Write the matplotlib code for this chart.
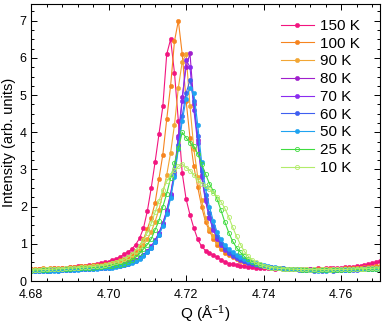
import numpy as np
import matplotlib
matplotlib.use("Agg")
import matplotlib.pyplot as plt
from matplotlib.ticker import MultipleLocator

plt.rcParams['font.family'] = ['Liberation Sans', 'DejaVu Sans']
plt.rcParams['mathtext.fontset'] = 'custom'
plt.rcParams['mathtext.rm'] = 'Liberation Sans'
plt.rcParams['mathtext.it'] = 'Liberation Sans:italic'

# Q grid 4.680 ... 4.770 (step 0.001)
q = [round(4.680 + 0.001 * i, 3) for i in range(91)]

i_150 = [0.31, 0.30, 0.32, 0.31, 0.33, 0.32, 0.34, 0.33, 0.35, 0.35,
         0.37, 0.37, 0.39, 0.40, 0.41, 0.43, 0.44, 0.46, 0.48, 0.50,
         0.52, 0.56, 0.60, 0.65, 0.72, 0.78, 0.86, 0.98, 1.15, 1.42,
         1.88, 2.50, 3.20, 3.95, 4.70, 6.10, 6.50, 5.60, 4.30, 2.90,
         2.20, 1.78, 1.42, 1.12, 0.93, 0.82, 0.75, 0.69, 0.64, 0.57,
         0.51, 0.47, 0.45, 0.43, 0.41, 0.39, 0.38, 0.37, 0.36, 0.35,
         0.35, 0.34, 0.34, 0.33, 0.34, 0.33, 0.33, 0.32, 0.33, 0.32,
         0.33, 0.32, 0.33, 0.33, 0.34, 0.33, 0.34, 0.35, 0.35, 0.36,
         0.36, 0.37, 0.38, 0.38, 0.40, 0.41, 0.43, 0.45, 0.48, 0.51,
         0.55]

i_100 = [0.33, 0.32, 0.33, 0.34, 0.33, 0.34, 0.35, 0.35, 0.36, 0.36,
         0.37, 0.38, 0.38, 0.39, 0.40, 0.41, 0.42, 0.43, 0.44, 0.45,
         0.46, 0.49, 0.52, 0.56, 0.59, 0.65, 0.72, 0.82, 0.95, 1.12,
         1.40, 1.70, 2.10, 2.75, 3.40, 4.35, 5.25, 6.45, 7.00, 6.10,
         4.85, 3.85, 3.08, 2.52, 2.00, 1.59, 1.35, 1.14, 0.98, 0.85,
         0.76, 0.70, 0.65, 0.60, 0.55, 0.52, 0.49, 0.45, 0.43, 0.41,
         0.39, 0.37, 0.36, 0.35, 0.34, 0.33, 0.33, 0.32, 0.32, 0.31,
         0.32, 0.31, 0.31, 0.32, 0.31, 0.32, 0.32, 0.33, 0.32, 0.33,
         0.33, 0.34, 0.34, 0.35, 0.35, 0.36, 0.37, 0.37, 0.38, 0.39,
         0.40]

i_90 = [0.30, 0.31, 0.30, 0.31, 0.32, 0.31, 0.32, 0.33, 0.32, 0.33,
        0.34, 0.34, 0.35, 0.36, 0.36, 0.37, 0.38, 0.39, 0.40, 0.41,
        0.42, 0.43, 0.45, 0.47, 0.50, 0.55, 0.62, 0.72, 0.84, 0.98,
        1.12, 1.32, 1.60, 1.92, 2.35, 2.85, 3.45, 4.20, 5.20, 5.90,
        6.10, 4.70, 3.55, 2.80, 2.18, 1.70, 1.40, 1.22, 1.06, 0.93,
        0.84, 0.76, 0.69, 0.63, 0.58, 0.54, 0.50, 0.47, 0.44, 0.42,
        0.40, 0.38, 0.37, 0.36, 0.35, 0.34, 0.33, 0.33, 0.32, 0.32,
        0.31, 0.32, 0.31, 0.31, 0.30, 0.31, 0.31, 0.32, 0.31, 0.32,
        0.32, 0.33, 0.33, 0.33, 0.34, 0.34, 0.35, 0.35, 0.36, 0.36,
        0.37]

i_80 = [0.28, 0.29, 0.28, 0.29, 0.29, 0.30, 0.29, 0.30, 0.31, 0.30,
        0.31, 0.31, 0.32, 0.32, 0.33, 0.33, 0.34, 0.34, 0.35, 0.36,
        0.37, 0.38, 0.40, 0.42, 0.45, 0.48, 0.52, 0.57, 0.63, 0.71,
        0.81, 0.93, 1.10, 1.30, 1.56, 1.90, 2.35, 2.95, 3.90, 4.95,
        5.75, 6.12, 4.75, 3.80, 2.85, 2.20, 1.72, 1.40, 1.16, 0.99,
        0.86, 0.76, 0.69, 0.63, 0.58, 0.54, 0.50, 0.47, 0.44, 0.42,
        0.40, 0.38, 0.37, 0.36, 0.35, 0.34, 0.33, 0.32, 0.32, 0.31,
        0.31, 0.30, 0.31, 0.30, 0.30, 0.29, 0.30, 0.30, 0.31, 0.30,
        0.31, 0.31, 0.32, 0.32, 0.33, 0.33, 0.34, 0.34, 0.35, 0.35,
        0.36]

i_70 = [0.27, 0.28, 0.28, 0.29, 0.28, 0.29, 0.30, 0.29, 0.30, 0.31,
        0.30, 0.31, 0.32, 0.32, 0.33, 0.34, 0.34, 0.35, 0.35, 0.36,
        0.37, 0.38, 0.40, 0.42, 0.44, 0.47, 0.51, 0.56, 0.62, 0.70,
        0.80, 0.92, 1.08, 1.28, 1.54, 1.88, 2.32, 2.92, 3.85, 4.85,
        5.95, 5.75, 4.60, 3.70, 2.80, 2.15, 1.70, 1.38, 1.14, 0.97,
        0.84, 0.75, 0.68, 0.62, 0.57, 0.53, 0.49, 0.46, 0.43, 0.41,
        0.39, 0.37, 0.36, 0.35, 0.34, 0.33, 0.32, 0.32, 0.31, 0.31,
        0.30, 0.30, 0.29, 0.30, 0.29, 0.30, 0.30, 0.29, 0.30, 0.30,
        0.31, 0.30, 0.31, 0.31, 0.32, 0.32, 0.33, 0.33, 0.34, 0.34,
        0.35]

i_60 = [0.26, 0.27, 0.27, 0.28, 0.27, 0.28, 0.29, 0.28, 0.29, 0.30,
        0.30, 0.30, 0.31, 0.31, 0.32, 0.33, 0.33, 0.34, 0.34, 0.35,
        0.36, 0.37, 0.39, 0.41, 0.43, 0.46, 0.50, 0.55, 0.61, 0.69,
        0.78, 0.90, 1.06, 1.25, 1.50, 1.83, 2.27, 2.85, 3.65, 4.45,
        5.05, 5.40, 4.85, 3.90, 2.95, 2.30, 1.82, 1.48, 1.22, 1.03,
        0.89, 0.79, 0.71, 0.65, 0.60, 0.55, 0.51, 0.48, 0.45, 0.42,
        0.40, 0.38, 0.36, 0.35, 0.34, 0.33, 0.32, 0.31, 0.31, 0.30,
        0.30, 0.29, 0.29, 0.28, 0.29, 0.28, 0.29, 0.29, 0.28, 0.29,
        0.29, 0.30, 0.29, 0.30, 0.30, 0.31, 0.31, 0.32, 0.32, 0.33,
        0.33]

i_50 = [0.26, 0.26, 0.27, 0.27, 0.28, 0.27, 0.28, 0.28, 0.29, 0.29,
        0.30, 0.30, 0.30, 0.31, 0.31, 0.32, 0.32, 0.33, 0.34, 0.34,
        0.35, 0.36, 0.38, 0.40, 0.42, 0.45, 0.49, 0.54, 0.60, 0.68,
        0.77, 0.88, 1.04, 1.23, 1.48, 1.80, 2.22, 2.80, 3.55, 4.30,
        4.90, 5.20, 5.05, 4.20, 3.20, 2.50, 2.00, 1.62, 1.32, 1.12,
        0.97, 0.86, 0.77, 0.70, 0.64, 0.59, 0.55, 0.51, 0.48, 0.45,
        0.42, 0.40, 0.38, 0.37, 0.35, 0.34, 0.33, 0.32, 0.31, 0.31,
        0.30, 0.30, 0.29, 0.29, 0.28, 0.29, 0.28, 0.29, 0.29, 0.30,
        0.29, 0.30, 0.30, 0.31, 0.31, 0.31, 0.32, 0.32, 0.33, 0.33,
        0.34]

i_25 = [0.28, 0.29, 0.29, 0.30, 0.30, 0.31, 0.31, 0.32, 0.32, 0.33,
        0.33, 0.34, 0.34, 0.35, 0.35, 0.36, 0.36, 0.37, 0.38, 0.39,
        0.40, 0.41, 0.42, 0.44, 0.46, 0.50, 0.56, 0.64, 0.74, 0.86,
        0.98, 1.13, 1.38, 1.62, 2.00, 2.35, 2.77, 3.17, 3.57, 4.00,
        3.85, 3.72, 3.62, 3.42, 3.15, 2.88, 2.62, 2.42, 2.20, 1.90,
        1.58, 1.30, 1.07, 0.90, 0.77, 0.66, 0.58, 0.52, 0.47, 0.43,
        0.40, 0.38, 0.36, 0.35, 0.34, 0.33, 0.32, 0.32, 0.31, 0.31,
        0.30, 0.30, 0.29, 0.30, 0.29, 0.29, 0.30, 0.29, 0.30, 0.30,
        0.30, 0.31, 0.30, 0.31, 0.31, 0.32, 0.31, 0.32, 0.32, 0.33,
        0.33]

i_10 = [0.29, 0.30, 0.30, 0.31, 0.31, 0.32, 0.32, 0.33, 0.33, 0.34,
        0.35, 0.35, 0.36, 0.37, 0.37, 0.38, 0.39, 0.40, 0.41, 0.43,
        0.45, 0.48, 0.51, 0.54, 0.58, 0.64, 0.72, 0.82, 0.95, 1.10,
        1.30, 1.55, 1.85, 2.15, 2.45, 2.68, 2.85, 2.98, 3.08, 3.15,
        3.05, 2.97, 2.85, 2.72, 2.62, 2.55, 2.47, 2.38, 2.27, 2.13,
        1.95, 1.72, 1.45, 1.20, 0.98, 0.80, 0.67, 0.57, 0.50, 0.45,
        0.41, 0.38, 0.36, 0.35, 0.34, 0.33, 0.33, 0.32, 0.32, 0.31,
        0.31, 0.31, 0.30, 0.31, 0.30, 0.31, 0.31, 0.30, 0.31, 0.31,
        0.32, 0.31, 0.32, 0.32, 0.33, 0.33, 0.33, 0.34, 0.34, 0.35,
        0.35]

labels = ['150 K', '100 K', '90 K', '80 K', '70 K', '60 K', '50 K', '25 K', '10 K']
series = [i_150, i_100, i_90, i_80, i_70, i_60, i_50, i_25, i_10]
colors = ['#f2157f', '#f6841f', '#f2a634', '#a01fcc', '#8a2cf0',
          '#3f5ff0', '#1fa3f0', '#3fdc3f', '#b2ec6a']
hollow = [False, False, False, False, False, False, False, True, True]

fig = plt.figure(figsize=(3.82, 3.26), dpi=100)
ax = fig.add_axes([31 / 382, 1 - 281 / 326, 349 / 382, 277 / 326])

for y, lab, c, h in zip(series, labels, colors, hollow):
    if h:
        ax.plot(q, y, '-o', color=c, lw=0.8, ms=3.0, mfc='none', mew=0.6, label=lab)
    else:
        ax.plot(q, y, '-o', color=c, lw=0.8, ms=3.2, mec=c, mew=0.3, label=lab)

ax.set_xlim(4.68, 4.77)
ax.set_ylim(0, 7.45)
ax.xaxis.set_major_locator(MultipleLocator(0.02))
ax.xaxis.set_minor_locator(MultipleLocator(0.004))
ax.yaxis.set_major_locator(MultipleLocator(1))
ax.yaxis.set_minor_locator(MultipleLocator(0.25))
ax.set_xticks([4.68, 4.70, 4.72, 4.74, 4.76])
ax.set_xticklabels(['4.68', '4.70', '4.72', '4.74', '4.76'])
ax.tick_params(which='both', direction='in', top=True, right=True, labelsize=9, width=0.7)
ax.tick_params(which='major', length=4)
ax.tick_params(which='minor', length=2)
ax.tick_params(axis='x', which='major', pad=5.5)
ax.tick_params(axis='y', which='major', pad=3)
for s in ax.spines.values():
    s.set_linewidth(0.8)

ax.set_xlabel('Q (Å$^{-1}$)', fontsize=11, labelpad=2)
ax.set_ylabel('Intensity (arb. units)', fontsize=10.5, labelpad=3)

leg = ax.legend(loc='upper left', bbox_to_anchor=(0.715, 0.946), frameon=False,
                fontsize=11, handlelength=2.2, handletextpad=0.4,
                labelspacing=0.245, borderpad=0, borderaxespad=0)

fig.savefig('out.png', dpi=100)
